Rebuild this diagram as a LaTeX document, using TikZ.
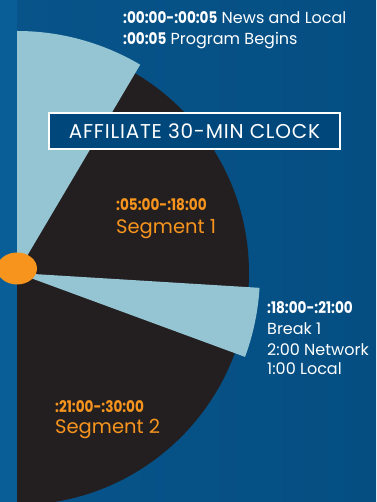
\documentclass[tikz,border=0pt]{standalone}
\usepackage{fontspec}
\setmainfont{Poppins}
\newfontfamily\timefont[FakeStretch=0.85]{Poppins}
\newfontfamily\titlefont[LetterSpace=4]{Poppins}

\begin{document}
\begin{tikzpicture}[x=1pt, y=1pt]
        % Colors
        \definecolor{bgblue}{RGB}{8, 84, 138}
        \definecolor{bgblueright}{RGB}{4, 78, 130}
        \definecolor{stripblue}{RGB}{10, 94, 152}
        \definecolor{boxblue}{RGB}{0, 72, 124}
        \definecolor{wedgeblue}{RGB}{149, 197, 211}
        \definecolor{clockblack}{RGB}{35, 31, 32}
        \definecolor{segorange}{RGB}{247, 148, 29}

        \tikzset{
            timelbl/.style={anchor=base west, inner sep=0pt, font=\timefont\bfseries\fontsize{16}{19}\selectfont},
            seglbl/.style={anchor=base west, inner sep=0pt, font=\fontsize{19.5}{23}\selectfont},
            infolbl/.style={anchor=base west, inner sep=0pt, text=white, font=\fontsize{16}{19}\selectfont}
        }

        % Background
        \useasboundingbox (0,0) rectangle (376,502);
        \shade[left color=bgblue, right color=bgblueright] (0,0) rectangle (376,502);
        \fill[stripblue] (0,0) rectangle (17,502);

        % Clock
        \coordinate (hub) at (17,229);
        \fill[clockblack] (hub) ++(-90:232) arc[start angle=-90, end angle=90, radius=232] -- cycle;
        \fill[wedgeblue] (hub) -- ++(59.4:242) arc[start angle=59.4, end angle=90, radius=242] -- cycle;
        \fill[wedgeblue] (hub) -- ++(-20.2:243) arc[start angle=-20.2, end angle=-3.5, radius=243] -- cycle;
        \fill[segorange] (17,233.5) ellipse[x radius=20, y radius=16];

        % Title
        \node[draw=white, line width=1.5pt, fill=boxblue, minimum width=291pt, minimum height=36pt, inner sep=0pt, text=white, font=\titlefont\fontsize{20}{24}\selectfont] (title) at (194.5,371) {AFFILIATE 30-MIN CLOCK};

        % Labels
        \node[infolbl] (newsline) at (123,478) {{\timefont\bfseries :00:00-:00:05} News and Local};
        \node[infolbl] (beginline) at (123,457.5) {{\timefont\bfseries :00:05} Program Begins};

        \node[timelbl, text=segorange] (seg1time) at (116,291.3) {:05:00-:18:00};
        \node[seglbl, text=segorange] (seg1) at (116,268.7) {Segment 1};

        \node[timelbl, text=white] (breaktime) at (267,188.7) {:18:00-:21:00};
        \node[infolbl] (break) at (267,167) {Break 1};
        \node[infolbl] (network) at (267,146) {2:00 Network};
        \node[infolbl] (local) at (267,127) {1:00 Local};

        \node[timelbl, text=segorange] (seg2time) at (55,89.3) {:21:00-:30:00};
        \node[seglbl, text=segorange] (seg2) at (55,68) {Segment 2};

\end{tikzpicture}
\end{document}
